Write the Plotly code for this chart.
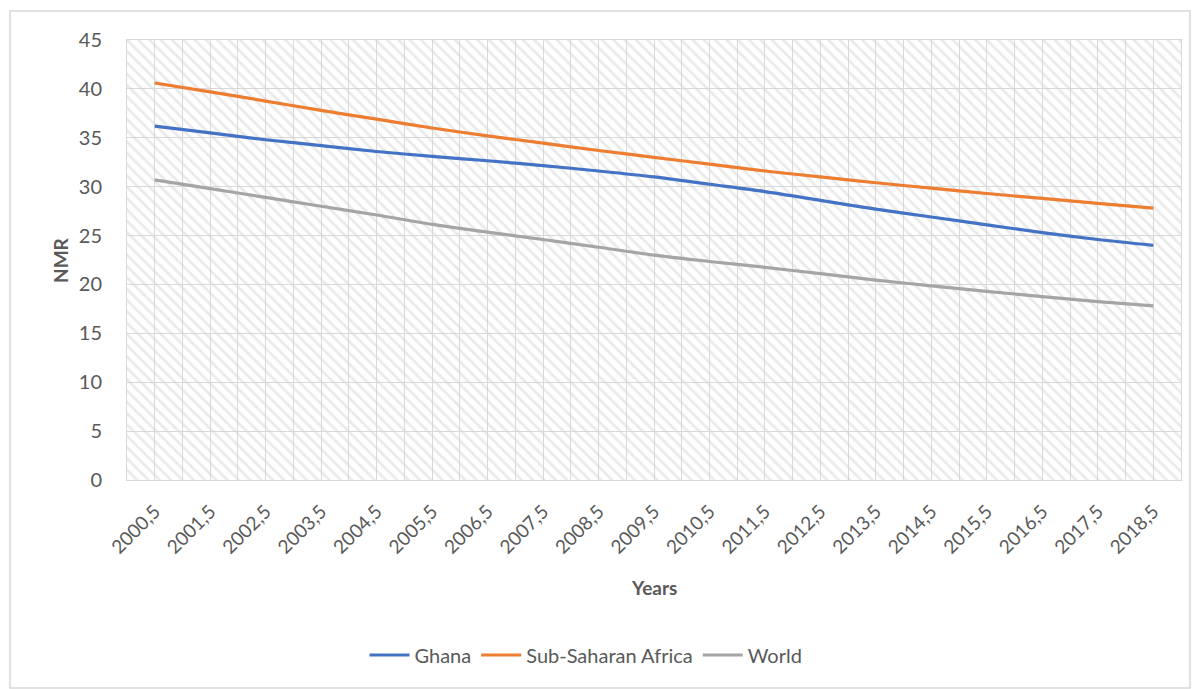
import plotly.graph_objects as go

# ---------------- data ----------------
years = ["2000,5", "2001,5", "2002,5", "2003,5", "2004,5", "2005,5", "2006,5",
         "2007,5", "2008,5", "2009,5", "2010,5", "2011,5", "2012,5", "2013,5",
         "2014,5", "2015,5", "2016,5", "2017,5", "2018,5"]
ghana = [36.2, 35.5, 34.8, 34.2, 33.6, 33.1, 32.65, 32.15, 31.6, 31.0,
         30.25, 29.5, 28.6, 27.7, 26.9, 26.1, 25.3, 24.6, 24.0]
ssa = [40.6, 39.7, 38.75, 37.8, 36.9, 36.0, 35.2, 34.45, 33.7, 33.0,
       32.3, 31.6, 31.0, 30.4, 29.85, 29.3, 28.8, 28.3, 27.8]
world = [30.7, 29.8, 28.9, 28.0, 27.1, 26.15, 25.35, 24.6, 23.8, 23.0,
         22.35, 21.75, 21.1, 20.45, 19.85, 19.3, 18.75, 18.25, 17.8]
series_names = ["Ghana", "Sub-Saharan Africa", "World"]
y_ticks = [0, 5, 10, 15, 20, 25, 30, 35, 40, 45]

# ---------------- styling ----------------
colors = ["#4472C4", "#ED7D31", "#A5A5A5"]
FONT = "Lato"
TXT = "#595959"
GRID = "#d9d9d9"

xpos = list(range(len(years)))
x_lo, x_hi = -0.5, len(years) - 0.5
y_lo, y_hi = y_ticks[0], y_ticks[-1]

fig = go.Figure()

# hatched plot-area background
fig.add_trace(go.Scatter(
    x=[x_lo, x_hi, x_hi, x_lo, x_lo], y=[y_lo, y_lo, y_hi, y_hi, y_lo],
    fill="toself", mode="none", fillcolor="rgba(0,0,0,0)",
    fillpattern=dict(shape="\\", fgcolor="#d6d6d6", bgcolor="rgba(0,0,0,0)",
                     size=8, solidity=0.35),
    hoverinfo="skip", showlegend=False))

for name, vals, col in zip(series_names, [ghana, ssa, world], colors):
    fig.add_trace(go.Scatter(
        x=xpos, y=vals, mode="lines", name=name,
        line=dict(color=col, width=3.2, shape="spline", smoothing=0.8)))

W, H = 1199, 689
L, R, T, B = 127, 1181, 40, 480
pw, ph = R - L, B - T

def px_x(p):
    return (p - L) / pw

def px_y(p):
    return (B - p) / ph

fig.update_layout(
    width=W, height=H,
    margin=dict(l=L, r=W - R, t=T, b=H - B),
    paper_bgcolor="white", plot_bgcolor="white",
    font=dict(family=FONT, color=TXT, size=20),
    showlegend=True,
    legend=dict(orientation="h", x=px_x(586), xanchor="center",
                y=px_y(655), yanchor="middle",
                font=dict(size=20, color=TXT, family=FONT),
                itemwidth=40, tracegroupgap=0),
    xaxis=dict(range=[x_lo, x_hi], tickmode="array", tickvals=xpos,
               ticktext=years, tickangle=-45, showgrid=True, gridcolor=GRID,
               gridwidth=1, zeroline=False, showline=True, mirror=True,
               linecolor=GRID, linewidth=1, ticks="", ticklabelstandoff=12,
               tickfont=dict(size=19, color=TXT, family=FONT),
               minor=dict(tick0=-0.5, dtick=1, showgrid=True, gridcolor=GRID,
                          gridwidth=1)),
    yaxis=dict(range=[y_lo, y_hi], tickmode="array", tickvals=y_ticks,
               showgrid=True, gridcolor=GRID, gridwidth=1, zeroline=False,
               showline=True, mirror=True, linecolor=GRID, linewidth=1,
               ticks="", ticklabelstandoff=20,
               tickfont=dict(size=20, color=TXT, family=FONT)),
    annotations=[
        dict(text="<b>NMR</b>", xref="paper", yref="paper", x=px_x(60),
             y=px_y(260), textangle=-90, showarrow=False,
             font=dict(size=19, color=TXT, family=FONT),
             xanchor="center", yanchor="middle"),
        dict(text="<b>Years</b>", xref="paper", yref="paper", x=px_x(654),
             y=px_y(587), showarrow=False,
             font=dict(size=19, color=TXT, family=FONT),
             xanchor="center", yanchor="middle"),
    ],
    shapes=[dict(type="rect", xref="paper", yref="paper",
                 x0=px_x(10), x1=px_x(1190), y0=px_y(688), y1=px_y(11),
                 line=dict(color="#d9d9d9", width=1.5), layer="below")],
)

fig.write_html("out.html")
